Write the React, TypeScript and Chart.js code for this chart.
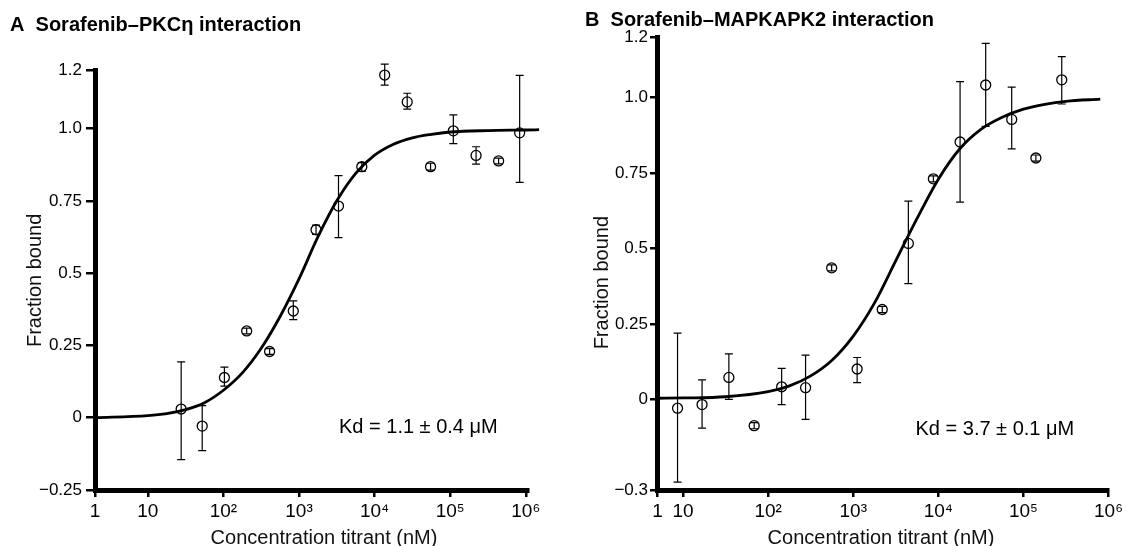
import React, { useEffect, useRef } from "react";
import { Chart, registerables } from "chart.js";

Chart.register(...registerables);

const FONT_FAMILY = '"Liberation Sans", Arial, Helvetica, sans-serif';

const X_TITLE = "Concentration titrant (nM)";
const Y_TITLE = "Fraction bound";
const X_TICK_LABELS = ["1", "10", "10²", "10³", "10⁴", "10⁵", "10⁶"];

// ---------------- Panel A: Sorafenib–PKCη ----------------
const A_TITLE = "A  Sorafenib–PKCη interaction";
const A_NOTE = "Kd = 1.1 ± 0.4 μM";
const A_CONC = [27.6, 52.4, 103, 203, 408, 840, 1680, 3330, 6770, 13600, 27000, 55000, 110000, 220000, 437000, 830000];
const A_FRAC = [0.03, -0.029, 0.139, 0.3, 0.229, 0.369, 0.65, 0.732, 0.868, 1.185, 1.092, 0.868, 0.992, 0.907, 0.888, 0.985];
const A_ERR_HI = [0.193, 0.042, 0.175, 0.31, 0.239, 0.404, 0.666, 0.837, 0.882, 1.223, 1.122, 0.88, 1.047, 0.937, 0.898, 1.184];
const A_ERR_LO = [-0.145, -0.114, 0.109, 0.29, 0.219, 0.339, 0.634, 0.623, 0.852, 1.15, 1.067, 0.856, 0.948, 0.877, 0.878, 0.814];
// fitted curve at quarter-decade steps
const A_FIT_CONC = [2, 10, 17.8, 31.6, 56.2, 100, 178, 316, 562, 1000, 1778, 3162, 5623, 10000, 17783, 31623, 56234, 100000, 316228, 1000000, 1500000];
const A_FIT_FRAC = [0, 0.007, 0.014, 0.028, 0.052, 0.095, 0.155, 0.24, 0.35, 0.48, 0.625, 0.75, 0.845, 0.908, 0.946, 0.968, 0.98, 0.988, 0.993, 0.995, 0.996];
// reference axis origin (labelled "1") sits at ~2 nM on the log scale
const A_X_TICKS = [2, 10, 100, 1000, 10000, 100000, 1000000];
const A_X_MAX = 1070000;
const A_Y_TICKS = [-0.25, 0, 0.25, 0.5, 0.75, 1.0, 1.2];
const A_Y_LABELS = ["−0.25", "0", "0.25", "0.5", "0.75", "1.0", "1.2"];

// ---------------- Panel B: Sorafenib–MAPKAPK2 ----------------
const B_TITLE = "B  Sorafenib–MAPKAPK2 interaction";
const B_NOTE = "Kd = 3.7 ± 0.1 μM";
const B_CONC = [8.6, 16.7, 34.5, 68.4, 144, 275, 557, 1110, 2190, 4440, 8740, 18000, 36000, 72800, 140000, 282000];
const B_FRAC = [-0.029, -0.017, 0.073, -0.087, 0.042, 0.039, 0.436, 0.101, 0.298, 0.517, 0.731, 0.853, 1.042, 0.928, 0.8, 1.059];
const B_ERR_HI = [0.22, 0.065, 0.151, -0.077, 0.103, 0.147, 0.446, 0.139, 0.308, 0.657, 0.741, 1.053, 1.18, 1.035, 0.81, 1.136];
const B_ERR_LO = [-0.274, -0.095, 0.0, -0.097, -0.017, -0.066, 0.426, 0.056, 0.288, 0.384, 0.721, 0.654, 0.905, 0.83, 0.79, 0.979];
// fitted curve at quarter-decade steps
const B_FIT_CONC = [5, 10, 31.6, 100, 178, 316, 562, 1000, 1778, 3162, 5623, 10000, 17783, 31623, 56234, 100000, 177828, 316228, 800000];
const B_FIT_FRAC = [0.004, 0.005, 0.009, 0.026, 0.045, 0.078, 0.13, 0.21, 0.32, 0.46, 0.6, 0.73, 0.83, 0.895, 0.935, 0.962, 0.978, 0.988, 0.995];
// reference axis origin (labelled "1") sits at ~5 nM on the log scale
const B_X_TICKS = [5, 10, 100, 1000, 10000, 100000, 1000000];
const B_X_MAX = 1000000;
const B_Y_TICKS = [-0.3, 0, 0.25, 0.5, 0.75, 1.0, 1.2];
const B_Y_LABELS = ["−0.3", "0", "0.25", "0.5", "0.75", "1.0", "1.2"];

const errorBarsPlugin = {
  id: "errorBars",
  afterDatasetsDraw(chart: any, _args: any, opts: any) {
    if (!opts || !opts.conc) return;
    const { ctx } = chart;
    const xs = chart.scales.x;
    const ys = chart.scales.y;
    const cap = 4;
    ctx.save();
    ctx.strokeStyle = "#000";
    ctx.lineWidth = 1.2;
    for (let i = 0; i < opts.conc.length; i++) {
      const px = xs.getPixelForValue(opts.conc[i]);
      const yh = ys.getPixelForValue(opts.hi[i]);
      const yl = ys.getPixelForValue(opts.lo[i]);
      ctx.beginPath();
      ctx.moveTo(px, yh);
      ctx.lineTo(px, yl);
      ctx.moveTo(px - cap, yh);
      ctx.lineTo(px + cap, yh);
      ctx.moveTo(px - cap, yl);
      ctx.lineTo(px + cap, yl);
      ctx.stroke();
    }
    ctx.restore();
  },
};

const panelTextPlugin = {
  id: "panelText",
  afterDraw(chart: any, _args: any, opts: any) {
    const { ctx, chartArea: ca } = chart;
    ctx.save();
    ctx.fillStyle = "#111";
    ctx.textBaseline = "middle";
    ctx.font = `20px ${FONT_FAMILY}`;
    ctx.save();
    ctx.translate(ca.left + opts.yTitleDx, (ca.top + ca.bottom) / 2 + opts.yTitleDy);
    ctx.rotate(-Math.PI / 2);
    ctx.textAlign = "center";
    ctx.fillText(Y_TITLE, 0, 0);
    ctx.restore();
    ctx.textAlign = "center";
    ctx.fillText(X_TITLE, ca.left + opts.xTitleDx, ca.bottom + opts.xTitleDy);
    ctx.fillStyle = "#000";
    ctx.textAlign = "left";
    ctx.fillText(opts.note, ca.left + opts.noteDx, ca.top + opts.noteDy);
    ctx.restore();
  },
};

type Panel = {
  title: string;
  note: string;
  conc: number[];
  frac: number[];
  hi: number[];
  lo: number[];
  fitConc: number[];
  fitFrac: number[];
  xTicks: number[];
  xMax: number;
  yTicks: number[];
  yLabels: string[];
  padLeft: number;
  padRight: number;
  yWidth: number;
  titleTop: number;
  titleBottom: number;
  yTickLen: number;
  yTickPad: number;
  text: any;
};

function makeConfig(p: Panel): any {
  return {
    type: "scatter",
    data: {
      datasets: [
        {
          data: p.fitConc.map((c, i) => ({ x: c, y: p.fitFrac[i] })),
          showLine: true,
          borderColor: "#000",
          borderWidth: 2.8,
          pointRadius: 0,
          cubicInterpolationMode: "monotone",
          clip: false,
        },
        {
          data: p.conc.map((c, i) => ({ x: c, y: p.frac[i] })),
          showLine: false,
          pointStyle: "circle",
          pointRadius: 5,
          pointBorderWidth: 1.3,
          pointBorderColor: "#000",
          pointBackgroundColor: "rgba(0,0,0,0)",
          clip: false,
        },
      ],
    },
    options: {
      animation: false,
      responsive: false,
      events: [],
      layout: { padding: { left: p.padLeft, right: p.padRight, top: 0, bottom: 0 } },
      plugins: {
        legend: { display: false },
        tooltip: { enabled: false },
        title: {
          display: true,
          text: p.title,
          align: "start",
          color: "#000",
          font: { family: FONT_FAMILY, size: 20, weight: "bold", lineHeight: 1.2 },
          padding: { top: p.titleTop, bottom: p.titleBottom },
        },
        errorBars: { conc: p.conc, hi: p.hi, lo: p.lo },
        panelText: p.text,
      },
      scales: {
        x: {
          type: "logarithmic",
          min: p.xTicks[0],
          max: p.xMax,
          afterBuildTicks: (s: any) => {
            s.ticks = p.xTicks.map((v) => ({ value: v }));
          },
          afterFit: (s: any) => {
            s.height = 56;
          },
          ticks: {
            callback: (_v: any, i: number) => X_TICK_LABELS[i],
            autoSkip: false,
            maxRotation: 0,
            minRotation: 0,
            padding: 3,
            color: "#000",
            font: { family: FONT_FAMILY, size: 19 },
          },
          grid: {
            display: true,
            drawOnChartArea: false,
            drawTicks: true,
            tickLength: 7,
            tickWidth: 2.5,
            lineWidth: 2.5,
            tickColor: "#000",
            color: "#000",
          },
          border: { display: true, color: "#000", width: 5 },
          title: { display: false },
        },
        y: {
          type: "linear",
          min: p.yTicks[0],
          max: p.yTicks[p.yTicks.length - 1],
          afterBuildTicks: (s: any) => {
            s.ticks = p.yTicks.map((v) => ({ value: v }));
          },
          afterFit: (s: any) => {
            s.width = p.yWidth;
          },
          ticks: {
            callback: (_v: any, i: number) => p.yLabels[i],
            autoSkip: false,
            padding: p.yTickPad,
            color: "#000",
            font: { family: FONT_FAMILY, size: 17 },
          },
          grid: {
            display: true,
            drawOnChartArea: false,
            drawTicks: true,
            tickLength: p.yTickLen,
            tickWidth: 2.5,
            lineWidth: 2.5,
            tickColor: "#000",
            color: "#000",
          },
          border: { display: true, color: "#000", width: 5 },
          title: { display: false },
        },
      },
    },
    plugins: [errorBarsPlugin, panelTextPlugin],
  };
}

const PANEL_A: Panel = {
  title: A_TITLE,
  note: A_NOTE,
  conc: A_CONC,
  frac: A_FRAC,
  hi: A_ERR_HI,
  lo: A_ERR_LO,
  fitConc: A_FIT_CONC,
  fitFrac: A_FIT_FRAC,
  xTicks: A_X_TICKS,
  xMax: A_X_MAX,
  yTicks: A_Y_TICKS,
  yLabels: A_Y_LABELS,
  padLeft: 10,
  padRight: 35,
  yWidth: 85,
  titleTop: 13,
  titleBottom: 33.7,
  yTickLen: 9,
  yTickPad: 4,
  text: { note: A_NOTE, yTitleDx: -60, yTitleDy: 0, xTitleDx: 229, xTitleDy: 48, noteDx: 244, noteDy: 357 },
};

const PANEL_B: Panel = {
  title: B_TITLE,
  note: B_NOTE,
  conc: B_CONC,
  frac: B_FRAC,
  hi: B_ERR_HI,
  lo: B_ERR_LO,
  fitConc: B_FIT_CONC,
  fitFrac: B_FIT_FRAC,
  xTicks: B_X_TICKS,
  xMax: B_X_MAX,
  yTicks: B_Y_TICKS,
  yLabels: B_Y_LABELS,
  padLeft: 22,
  padRight: 16.5,
  yWidth: 72.5,
  titleTop: 8,
  titleBottom: 5.3,
  yTickLen: 7.5,
  yTickPad: 2,
  text: { note: B_NOTE, yTitleDx: -55, yTitleDy: 19, xTitleDx: 223.5, xTitleDy: 48, noteDx: 258, noteDy: 392 },
};

function PanelChart({ panel, left }: { panel: Panel; left: number }) {
  const ref = useRef<HTMLCanvasElement | null>(null);
  useEffect(() => {
    if (!ref.current) return;
    const chart = new Chart(ref.current, makeConfig(panel));
    return () => chart.destroy();
  }, [panel]);
  return (
    <canvas
      ref={ref}
      width={563}
      height={546}
      style={{ position: "absolute", left, top: 0, width: 563, height: 546 }}
    />
  );
}

export default function App() {
  return (
    <div
      style={{
        position: "absolute",
        left: 0,
        top: 0,
        width: 1126,
        height: 546,
        background: "#fff",
        overflow: "hidden",
      }}
    >
      <PanelChart panel={PANEL_A} left={0} />
      <PanelChart panel={PANEL_B} left={563} />
    </div>
  );
}
